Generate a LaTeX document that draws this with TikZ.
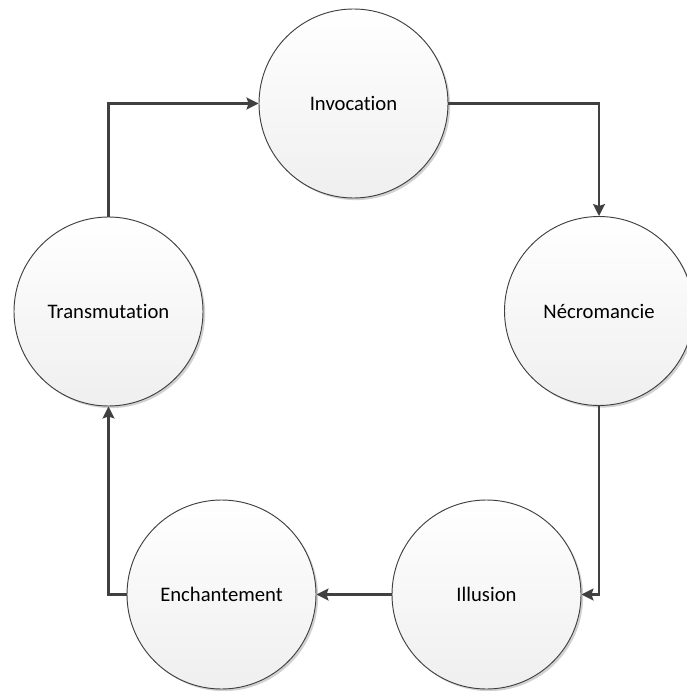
\documentclass[tikz,border=0pt]{standalone}
\usepackage{fontspec}
\setmainfont[Ligatures={NoCommon,NoRare,NoContextual}]{Carlito}
\usetikzlibrary{arrows.meta,shadows}
\definecolor{linegray}{HTML}{404040}
\definecolor{fillbot}{HTML}{EFEFEF}
\tikzset{
  stage/.style={circle, draw=linegray, line width=0.7pt, minimum size=141.75pt, inner sep=0pt,
    top color=white, bottom color=fillbot,
    drop shadow={shadow xshift=1.6pt, shadow yshift=-1.6pt, opacity=0.18, fill=black},
    font=\fontsize{15.5}{18}\selectfont, text=black},
  conn/.style={draw=linegray, line width=1.6pt, -{Stealth[length=9pt,width=9pt,inset=1.5pt]}}
}
\begin{document}
\begin{tikzpicture}[x=0.75pt,y=-0.75pt]
\useasboundingbox (0,0) rectangle (686,691);
\node[stage] (invoc) at (353.5,103.5) {Invocation};
\node[stage] (necro) at (599,311) {Nécromancie};
\node[stage] (illus) at (486.5,594.5) {Illusion};
\node[stage] (ench) at (221.5,594.5) {Enchantement};
\node[stage] (trans) at (108.5,311.5) {Transmutation};
\draw[conn] (invoc.east) -| (necro.north);
\draw[conn] (necro.south) |- (illus.east);
\draw[conn] (illus.west) -- (ench.east);
\draw[conn] (ench.west) -| (trans.south);
\draw[conn] (trans.north) |- (invoc.west);
\end{tikzpicture}
\end{document}
